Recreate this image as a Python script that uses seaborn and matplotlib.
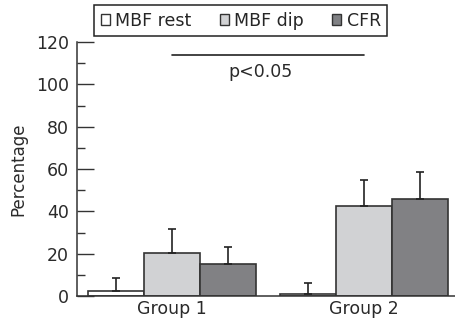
import pandas as pd
import matplotlib
matplotlib.use("Agg")
import matplotlib.pyplot as plt
import seaborn as sns
from matplotlib.ticker import MultipleLocator

# values
groups = ["Group 1", "Group 2"]
series = ["MBF rest", "MBF dip", "CFR"]
mbf_rest = [2.5, 1.1]
mbf_dip = [20.2, 42.8]
cfr = [15.4, 45.8]
err_rest = [6.1, 5.0]
err_dip = [11.6, 12.1]
err_cfr = [7.6, 12.9]
colors = ["#ffffff", "#d1d2d4", "#808184"]

rows = []
for g_i, g in enumerate(groups):
    for s, vals, errs in zip(series, [mbf_rest, mbf_dip, cfr], [err_rest, err_dip, err_cfr]):
        rows.append({"group": g, "series": s, "value": vals[g_i], "err": errs[g_i]})
df = pd.DataFrame(rows)

sns.set_style("ticks")
plt.rcParams["font.family"] = ["DejaVu Sans"]
fs = 12.5
txt = "#2a2a2a"

fig = plt.figure(figsize=(4.56, 3.29), dpi=100)
ax = fig.add_axes([0.169, 0.100, 0.829, 0.772])

sns.barplot(data=df, x="group", y="value", hue="series", palette=colors,
            width=0.875, edgecolor="#333333", linewidth=1.2, legend=False, ax=ax)

# upward error bars on each bar
for bar_group, s in zip(ax.containers, series):
    sub = df[df["series"] == s]
    for patch, e in zip(bar_group, sub["err"]):
        xc = patch.get_x() + patch.get_width() / 2
        ax.errorbar(xc, patch.get_height(), yerr=[[0], [e]], fmt="none",
                    ecolor="#222222", elinewidth=1.2, capsize=3, capthick=1.2, zorder=3)

# significance line
ax.plot([0, 1], [113.8, 113.8], color="#222222", lw=1.2)
ax.text(0.46, 106, "p<0.05", ha="center", va="center", fontsize=fs, color=txt)

ax.set_xlim(-0.495, 1.474)
ax.set_ylim(0, 120)
ax.yaxis.set_major_locator(MultipleLocator(20))
ax.yaxis.set_minor_locator(MultipleLocator(10))
ax.tick_params(axis="y", which="major", direction="in", length=12, width=1, color="#333333",
               labelsize=fs, labelcolor=txt, pad=6)
ax.tick_params(axis="y", which="minor", direction="in", length=6, width=1, color="#333333")
ax.tick_params(axis="x", length=0, labelsize=fs, labelcolor=txt, pad=3)
ax.set_xlabel("")
ax.set_ylabel("Percentage", fontsize=fs - 0.5, color=txt, labelpad=6)
sns.despine(ax=ax)
for sp in ["left", "bottom"]:
    ax.spines[sp].set_color("#333333")
    ax.spines[sp].set_linewidth(1.1)

handles = [plt.Rectangle((0, 0), 1, 1, facecolor=c, edgecolor="#333333", lw=1) for c in colors]
leg = fig.legend(handles, series, loc="upper center", bbox_to_anchor=(0.528, 0.985), ncol=3,
                 fontsize=fs, handlelength=0.55, handleheight=0.55, handletextpad=0.3,
                 columnspacing=1.6, fancybox=False, edgecolor="#222222", framealpha=1,
                 borderpad=0.38, borderaxespad=0)
leg.get_frame().set_linewidth(1.1)

fig.savefig("out.png", dpi=100)
